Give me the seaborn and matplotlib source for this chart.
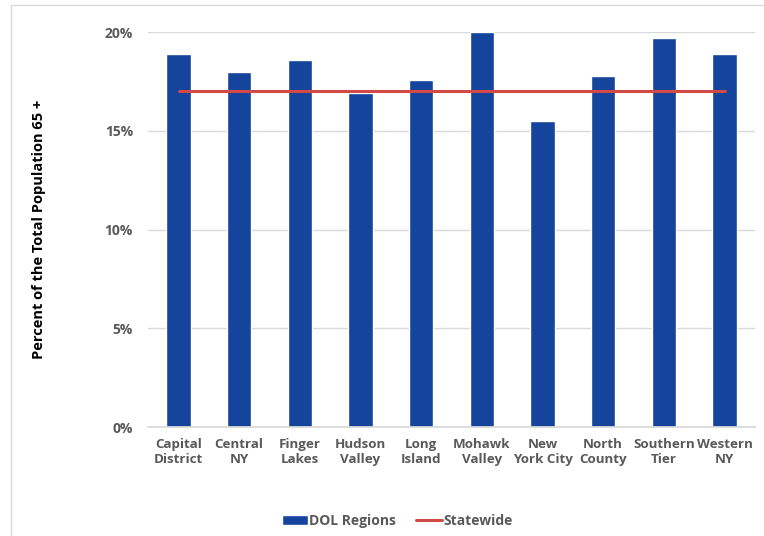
import numpy as np
import pandas as pd
import seaborn as sns
import matplotlib.pyplot as plt
from matplotlib.patches import Patch, Rectangle
from matplotlib.lines import Line2D
from matplotlib.ticker import PercentFormatter

# share of total population aged 65+, by DOL region
regions = ["Capital\nDistrict", "Central\nNY", "Finger\nLakes", "Hudson\nValley",
           "Long\nIsland", "Mohawk\nValley", "New\nYork City", "North\nCounty",
           "Southern\nTier", "Western\nNY"]
region_pct = [18.9, 18.0, 18.6, 16.9, 17.6, 20.0, 15.5, 17.8, 19.7, 18.9]
statewide_pct = [17.0] * len(regions)

bar_color = "#15449c"
line_color = "#d24a47"
text_color = "#595959"

sns.set_theme(style="white")
plt.rcParams["font.family"] = ["Open Sans", "DejaVu Sans"]

df = pd.DataFrame({"region": regions, "pct": region_pct, "state": statewide_pct})
df["pos"] = np.arange(len(df))

fig = plt.figure(figsize=(7.64, 5.36), dpi=100)
ax = fig.add_axes([0.194, 0.203, 0.794, 0.737])

sns.barplot(data=df, x="region", y="pct", color=bar_color, saturation=1,
            width=0.4, ax=ax, zorder=2)
sns.lineplot(data=df, x="pos", y="state", color=line_color, linewidth=2.2,
             ax=ax, zorder=3)

ax.set_xlim(-0.5, len(regions) - 0.5)
ax.set_ylim(0, 20)
ax.set_yticks([0, 5, 10, 15, 20])
ax.yaxis.set_major_formatter(PercentFormatter(decimals=0))
ax.grid(axis="y", color="#d9d9d9", linewidth=1, zorder=0)
ax.set_axisbelow(True)
for side in ["top", "right", "left"]:
    ax.spines[side].set_visible(False)
ax.spines["bottom"].set_color("#d9d9d9")

ax.set_xlabel("")
ax.set_ylabel("Percent of the Total Population 65 +", fontsize=10.5,
              fontweight="bold", color="black", labelpad=42)
ax.tick_params(axis="y", length=0, pad=11, labelsize=10, labelcolor=text_color)
ax.tick_params(axis="x", length=0, pad=8, labelsize=9.6, labelcolor=text_color)
for lbl in ax.get_xticklabels() + ax.get_yticklabels():
    lbl.set_fontweight("bold")

handles = [Patch(facecolor=bar_color, label="DOL Regions"),
           Line2D([0], [0], color=line_color, linewidth=2.2, label="Statewide")]
fig.legend(handles=handles, loc="center", bbox_to_anchor=(0.52, 0.028), ncol=2,
           frameon=False, handlelength=1.9, columnspacing=1.4,
           handletextpad=0.1, labelcolor=text_color,
           prop={"weight": "bold", "size": 10})

fig.patches.append(Rectangle((0.014, -0.01), 0.99, 1.0, transform=fig.transFigure,
                             fill=False, edgecolor="#d9d9d9", linewidth=1))

fig.savefig("out.png", dpi=100)
